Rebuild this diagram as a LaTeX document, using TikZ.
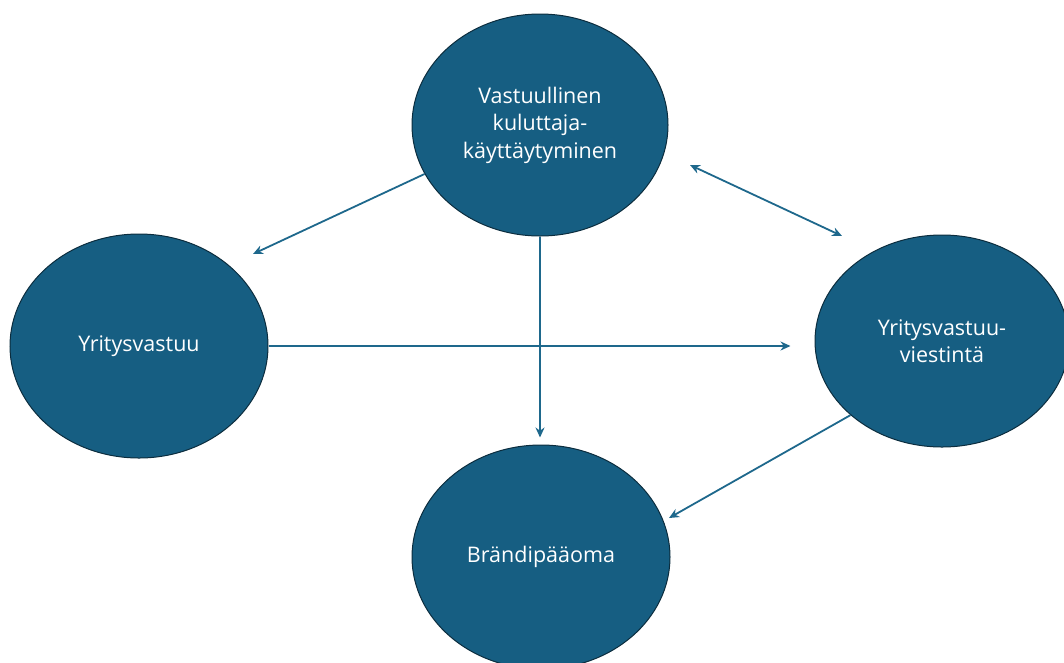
\documentclass[tikz,border=0pt]{standalone}
\usepackage{fontspec}
\setmainfont{Open Sans}
\usetikzlibrary{shapes.geometric,arrows.meta,calc}
\definecolor{fillblue}{RGB}{22,94,130}
\definecolor{edgeblue}{RGB}{12,45,62}
\definecolor{arrowblue}{RGB}{30,104,140}
\tikzset{
  bubble/.style={ellipse,fill=fillblue,draw=edgeblue,line width=1pt,inner sep=0pt,
    text=white,align=center,font=\fontsize{21.5}{27.5}\selectfont},
  link/.style={draw=arrowblue,line width=1.8pt,-{Stealth[length=10pt,width=9pt]}},
  dlink/.style={draw=arrowblue,line width=1.8pt,{Stealth[length=10pt,width=9pt]}-{Stealth[length=10pt,width=9pt]}}
}
\begin{document}
\begin{tikzpicture}[x=1pt,y=-1pt]
\useasboundingbox (0,0) rectangle (1064,662);
\clip (0,0) rectangle (1064,662);
\node[bubble,minimum width=256pt,minimum height=222pt] (top) at (540,125) {Vastuullinen\\kuluttaja-\\käyttäytyminen};
\node[bubble,minimum width=258pt,minimum height=224pt] (left) at (139,346) {Yritysvastuu};
\node[bubble,minimum width=254pt,minimum height=212pt] (right) at (942,341) {Yritysvastuu-\\viestintä};
\node[bubble,minimum width=258pt,minimum height=224pt] (bottom) at (541,557) {Brändipääoma};
\coordinate (t1) at (253,254);
\coordinate (d1) at (690,165);
\coordinate (d2) at (842,236);
\coordinate (t3) at ($(top.south)+(0,201)$);
\coordinate (t4) at ($(left.east)+(522,0)$);
\coordinate (t5) at (669,518);
\draw[link] (top.203.3) -- (t1);
\draw[dlink] (d1) -- (d2);
\draw[link] (top.south) -- (t3);
\draw[link] (left.east) -- (t4);
\draw[link] (right.219.7) -- (t5);
\end{tikzpicture}
\end{document}
